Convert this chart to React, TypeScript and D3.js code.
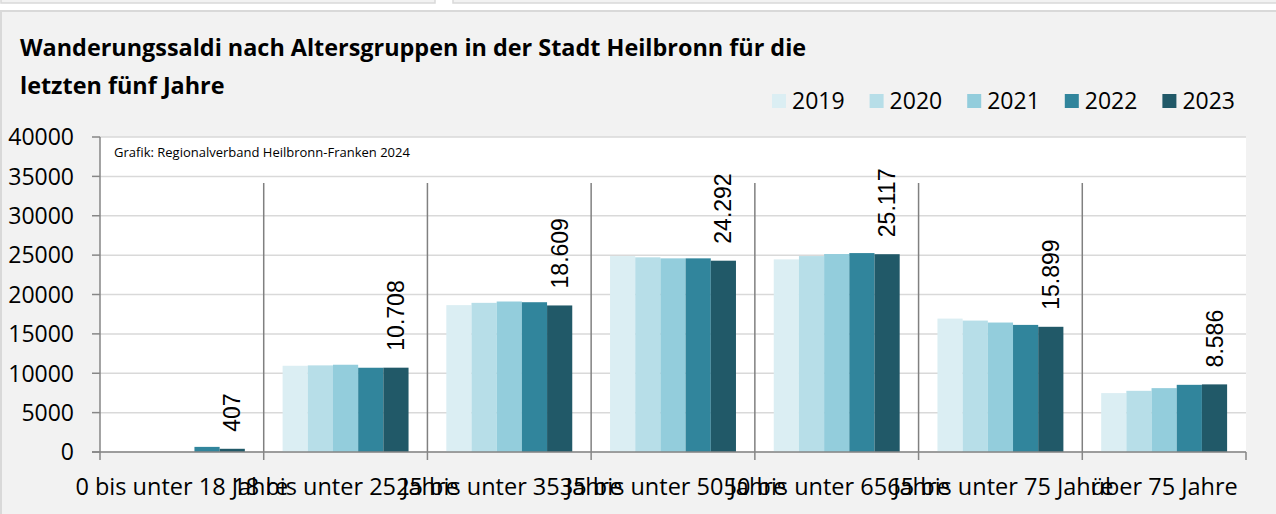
import React from "react";
import { scaleBand, scaleLinear, range, formatLocale } from "d3";

// data
const categories = [
  "0 bis unter 18 Jahre",
  "18 bis unter 25 Jahre",
  "25 bis unter 35 Jahre",
  "35 bis unter 50 Jahre",
  "50 bis unter 65 Jahre",
  "65 bis unter 75 Jahre",
  "über 75 Jahre",
];
const years = ["2019", "2020", "2021", "2022", "2023"];
const values2019 = [0, 10950, 18650, 24880, 24460, 16940, 7480];
const values2020 = [0, 11000, 18940, 24720, 24880, 16690, 7770];
const values2021 = [0, 11080, 19110, 24590, 25140, 16440, 8110];
const values2022 = [650, 10700, 19020, 24590, 25260, 16140, 8530];
const values2023 = [407, 10708, 18609, 24292, 25117, 15899, 8586];
const yTicks = [0, 5000, 10000, 15000, 20000, 25000, 30000, 35000, 40000];

const series = [values2019, values2020, values2021, values2022, values2023];
const colors = ["#dbeef3", "#b7dee8", "#93cddc", "#31859c", "#215968"];

const de = formatLocale({ decimal: ",", thousands: ".", grouping: [3], currency: ["", " €"] });
const fmt = de.format(",d");

const W = 1276;
const H = 514;
const plot = { left: 100, right: 1246, top: 137, bottom: 452 };
const font = "'Open Sans', sans-serif";

export default function App() {
  const xScale = scaleBand<string>().domain(categories).range([plot.left, plot.right]);
  const inner = scaleBand<string>()
    .domain(years)
    .range([0, xScale.bandwidth()])
    .paddingInner(0)
    .paddingOuter(0.75);
  const yScale = scaleLinear().domain([0, 40000]).range([plot.bottom, plot.top]);

  const boundaries = range(categories.length + 1).map(
    (i) => plot.left + i * xScale.step()
  );

  return (
    <svg
      width={W}
      height={H}
      style={{ position: "absolute", left: 0, top: 0, background: "#fff" }}
    >
      {/* tab strip and panel */}
      <rect x={1} y={-6} width={434} height={9} fill="#f2f2f2" stroke="#d9d9d9" strokeWidth={1.5} />
      <rect x={453} y={-6} width={840} height={9} fill="#f2f2f2" stroke="#d9d9d9" strokeWidth={1.5} />
      <rect x={1} y={11} width={1300} height={520} fill="#f2f2f2" stroke="#d9d9d9" strokeWidth={2} />

      {/* title */}
      <text x={20} y={56} fontFamily={font} fontWeight="bold" fontSize={23.4} fill="#000">
        Wanderungssaldi nach Altersgruppen in der Stadt Heilbronn für die
      </text>
      <text x={20} y={94} fontFamily={font} fontWeight="bold" fontSize={23.4} fill="#000">
        letzten fünf Jahre
      </text>

      {/* legend */}
      {years.map((yr, i) => (
        <g key={yr} transform={`translate(${772 + i * 97.6}, 0)`}>
          <rect x={0} y={94} width={14} height={14} fill={colors[i]} />
          <text x={20} y={109} fontFamily={font} fontSize={23} fill="#000">
            {yr}
          </text>
        </g>
      ))}

      {/* plot area */}
      <rect
        x={plot.left}
        y={plot.top}
        width={plot.right - plot.left}
        height={plot.bottom - plot.top}
        fill="#fff"
      />

      {/* gridlines */}
      {yTicks.map((t) => (
        <line
          key={t}
          x1={plot.left}
          x2={plot.right}
          y1={yScale(t)}
          y2={yScale(t)}
          stroke="#d9d9d9"
          strokeWidth={1.5}
        />
      ))}

      <text x={114} y={157} fontFamily={font} fontSize={13} fill="#000">
        Grafik: Regionalverband Heilbronn-Franken 2024
      </text>

      {/* bars */}
      {categories.map((c, ci) => (
        <g key={c} transform={`translate(${xScale(c)}, 0)`}>
          {series.map((s, si) => (
            <rect
              key={si}
              x={inner(years[si])}
              y={yScale(s[ci])}
              width={inner.bandwidth()}
              height={plot.bottom - yScale(s[ci])}
              fill={colors[si]}
            />
          ))}
        </g>
      ))}

      {/* data labels for 2023 */}
      {categories.map((c, ci) => {
        const cx = (xScale(c) ?? 0) + (inner("2023") ?? 0) + inner.bandwidth() / 2;
        const cy = yScale(values2023[ci]) - 17;
        return (
          <text
            key={c}
            transform={`translate(${cx}, ${cy}) rotate(-90)`}
            dy="0.35em"
            fontFamily="'Liberation Sans', Arial, sans-serif"
            fontSize={23}
            fill="#000"
          >
            {fmt(values2023[ci])}
          </text>
        );
      })}

      {/* category separators */}
      {boundaries.slice(1, -1).map((b, i) => (
        <line key={i} x1={b} x2={b} y1={183} y2={plot.bottom} stroke="#808080" strokeWidth={1.5} />
      ))}

      {/* y axis */}
      <line x1={plot.left} x2={plot.left} y1={plot.top} y2={plot.bottom} stroke="#868686" strokeWidth={1.5} />
      {yTicks.map((t) => (
        <g key={t} transform={`translate(0, ${yScale(t)})`}>
          <line x1={plot.left - 8} x2={plot.left} stroke="#868686" strokeWidth={1.5} />
          <text x={74} dy="0.36em" textAnchor="end" fontFamily={font} fontSize={23} fill="#000">
            {t}
          </text>
        </g>
      ))}

      {/* x axis */}
      <line x1={plot.left - 8} x2={plot.right} y1={plot.bottom} y2={plot.bottom} stroke="#868686" strokeWidth={1.5} />
      {boundaries.map((b, i) => (
        <line key={i} x1={b} x2={b} y1={plot.bottom} y2={plot.bottom + 8} stroke="#868686" strokeWidth={1.5} />
      ))}
      {categories.map((c) => (
        <text
          key={c}
          x={(xScale(c) ?? 0) + xScale.bandwidth() / 2}
          y={495}
          textAnchor="middle"
          fontFamily={font}
          fontSize={23.5}
          fill="#000"
        >
          {c}
        </text>
      ))}
    </svg>
  );
}
